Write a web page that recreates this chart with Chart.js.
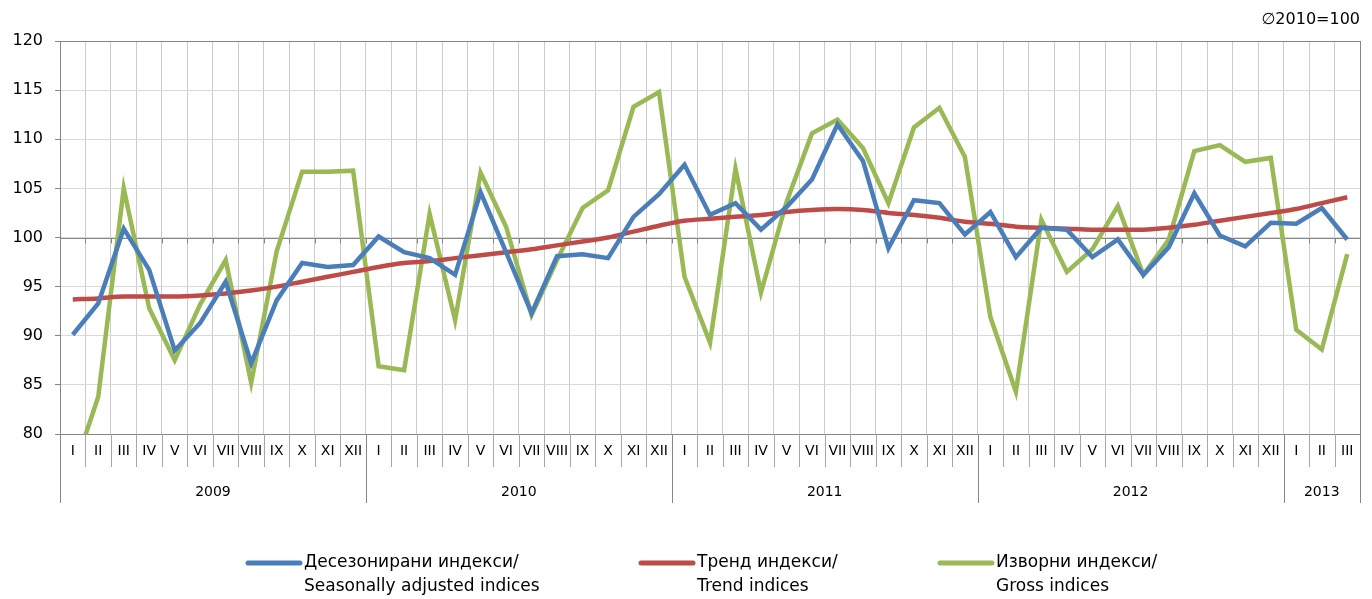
<!DOCTYPE html>
<html>
<head>
<meta charset="utf-8">
<script src="https://cdn.jsdelivr.net/npm/chart.js@4.4.1/dist/chart.umd.min.js"></script>
<style>
  html, body { margin: 0; padding: 0; background: #fff; }
  #wrap { width: 1372px; height: 599px; position: relative; }
</style>
</head>
<body>
<div id="wrap"><canvas id="indexChart"></canvas></div>
<script>
// Month labels (Jan 2009 - Mar 2013) and year groups
const romanMonths = ["I", "II", "III", "IV", "V", "VI", "VII", "VIII", "IX", "X", "XI", "XII"];
const years = ["2009", "2010", "2011", "2012", "2013"];
const monthsInYear = [12, 12, 12, 12, 3];
const months = [];
monthsInYear.forEach((n) => { for (let m = 0; m < n; m++) months.push(romanMonths[m]); });

// Series values
const seasonallyAdjusted = [
  90.1, 93.3, 100.9, 96.7, 88.5, 91.3, 95.5, 87.2, 93.6, 97.4, 97.0, 97.2,
  100.1, 98.5, 97.9, 96.2, 104.6, 98.5, 92.3, 98.1, 98.3, 97.9, 102.1, 104.4,
  107.4, 102.3, 103.5, 100.8, 103.1, 105.9, 111.5, 107.8, 98.9, 103.8, 103.5, 100.3,
  102.6, 98.0, 101.0, 100.8, 98.0, 99.8, 96.2, 99.0, 104.5, 100.2, 99.1, 101.5,
  101.4, 103.0, 99.8
];
const trend = [
  93.7, 93.8, 94.0, 94.0, 94.0, 94.1, 94.3, 94.6, 95.0, 95.5, 96.0, 96.5,
  97.0, 97.4, 97.6, 97.9, 98.2, 98.5, 98.8, 99.2, 99.6, 100.0, 100.6, 101.2,
  101.7, 101.9, 102.1, 102.3, 102.6, 102.8, 102.9, 102.8, 102.5, 102.3, 102.0, 101.6,
  101.4, 101.1, 101.0, 100.9, 100.8, 100.8, 100.8, 101.0, 101.3, 101.7, 102.1, 102.5,
  102.9, 103.5, 104.1
];
const gross = [
  76.0, 83.8, 105.0, 92.8, 87.5, 93.2, 97.7, 85.2, 98.6, 106.7, 106.7, 106.8,
  86.9, 86.5, 102.4, 91.6, 106.6, 101.1, 92.1, 97.7, 103.0, 104.8, 113.3, 114.8,
  96.0, 89.3, 107.0, 94.4, 103.6, 110.6, 112.0, 109.1, 103.5, 111.2, 113.2, 108.2,
  91.9, 84.3, 101.8, 96.5, 98.8, 103.2, 96.2, 99.8, 108.8, 109.4, 107.7, 108.1,
  90.6, 88.6, 98.3
];

const seriesLabels = [
  ["Десезонирани индекси/", "Seasonally adjusted indices"],
  ["Тренд индекси/", "Trend indices"],
  ["Изворни индекси/", "Gross indices"]
];
const legendX = [248, 641, 940];

const FONT = "'DejaVu Sans', 'Liberation Sans', sans-serif";
const AXIS_COLOR = "#868686";

Chart.defaults.color = "#000";
Chart.defaults.font.family = FONT;

// Draws frame, the 100 axis line, the two-level category axis and the legend
const decorPlugin = {
  id: "decor",
  beforeDatasetsDraw(chart) {
    const { ctx, chartArea: a, scales } = chart;
    const x = scales.x, y = scales.y;
    const y100 = Math.round(y.getPixelForValue(100)) + 0.5;
    ctx.save();
    ctx.strokeStyle = AXIS_COLOR;
    ctx.lineWidth = 1;
    ctx.strokeRect(Math.round(a.left) + 0.5, Math.round(a.top) + 0.5,
      Math.round(a.right - a.left), Math.round(a.bottom - a.top));
    ctx.beginPath();
    ctx.moveTo(a.left, y100);
    ctx.lineTo(a.right, y100);
    for (let i = 0; i <= months.length; i++) {
      const bx = Math.round(boundary(x, a, i)) + 0.5;
      ctx.moveTo(bx, y100);
      ctx.lineTo(bx, y100 + 5);
    }
    ctx.stroke();
    ctx.restore();
  },
  afterDraw(chart) {
    const { ctx, chartArea: a, scales } = chart;
    const x = scales.x;
    ctx.save();
    // month separators and labels
    ctx.strokeStyle = "#a6a6a6";
    ctx.lineWidth = 1;
    ctx.beginPath();
    for (let i = 0; i <= months.length; i++) {
      const bx = Math.round(boundary(x, a, i)) + 0.5;
      ctx.moveTo(bx, a.bottom);
      ctx.lineTo(bx, a.bottom + 33);
    }
    ctx.stroke();
    ctx.fillStyle = "#000";
    ctx.font = "14px " + FONT;
    ctx.textAlign = "center";
    ctx.textBaseline = "middle";
    months.forEach((m, i) => ctx.fillText(m, x.getPixelForValue(i), a.bottom + 17));

    // year separators and labels
    ctx.strokeStyle = AXIS_COLOR;
    ctx.beginPath();
    let start = 0;
    years.forEach((yr, k) => {
      const end = start + monthsInYear[k];
      const bx0 = boundary(x, a, start), bx1 = boundary(x, a, end);
      [bx0, bx1].forEach((bx) => {
        const px = Math.round(bx) + 0.5;
        ctx.moveTo(px, a.bottom);
        ctx.lineTo(px, a.bottom + 69);
      });
      ctx.fillText(yr, (bx0 + bx1) / 2, a.bottom + 58);
      start = end;
    });
    ctx.stroke();

    // base note
    ctx.font = "16px " + FONT;
    ctx.textAlign = "right";
    ctx.fillText("\u22052010=100", a.right, 20);

    // legend
    ctx.font = "17px " + FONT;
    ctx.textAlign = "left";
    chart.data.datasets.forEach((ds, k) => {
      const lx = legendX[k];
      ctx.strokeStyle = ds.borderColor;
      ctx.lineWidth = 5;
      ctx.lineCap = "round";
      ctx.beginPath();
      ctx.moveTo(lx, 563);
      ctx.lineTo(lx + 52, 563);
      ctx.stroke();
      ctx.fillText(seriesLabels[k][0], lx + 56, 563);
      ctx.fillText(seriesLabels[k][1], lx + 56, 587);
    });
    ctx.restore();
  }
};

function boundary(x, a, i) {
  if (i <= 0) return a.left;
  if (i >= months.length) return a.right;
  return (x.getPixelForValue(i - 1) + x.getPixelForValue(i)) / 2;
}

const ctx = document.getElementById("indexChart").getContext("2d");

new Chart(ctx, {
  type: "line",
  data: {
    labels: months,
    datasets: [
      {
        label: seriesLabels[0].join(" "),
        data: seasonallyAdjusted,
        borderColor: "#4a7ebb",
        borderWidth: 4.5,
        tension: 0,
        pointRadius: 0,
        clip: 0,
      },
      {
        label: seriesLabels[1].join(" "),
        data: trend,
        borderColor: "#be4b48",
        borderWidth: 4.5,
        tension: 0.4,
        cubicInterpolationMode: "monotone",
        pointRadius: 0,
        clip: 0,
      },
      {
        label: seriesLabels[2].join(" "),
        data: gross,
        borderColor: "#98b954",
        borderWidth: 4.5,
        tension: 0,
        pointRadius: 0,
        clip: 0,
      },
    ],
  },
  options: {
    responsive: true,
    maintainAspectRatio: false,
    animation: false,
    layout: { padding: { top: 41, right: 12, left: 0, bottom: 0 } },
    plugins: {
      legend: { display: false },
      tooltip: { enabled: false },
    },
    scales: {
      x: {
        type: "category",
        offset: true,
        grid: { offset: true, color: "#cccccc", drawTicks: false },
        border: { display: false },
        ticks: { display: false },
        afterFit: (scale) => { scale.height = 165; },
      },
      y: {
        min: 80,
        max: 120,
        ticks: { stepSize: 5, padding: 12, font: { size: 16 } },
        grid: { color: "#d9d9d9", tickColor: AXIS_COLOR, tickLength: 5 },
        border: { display: true, color: AXIS_COLOR },
        afterFit: (scale) => { scale.width = 60; },
      },
    },
  },
  plugins: [decorPlugin],
});
</script>
</body>
</html>
